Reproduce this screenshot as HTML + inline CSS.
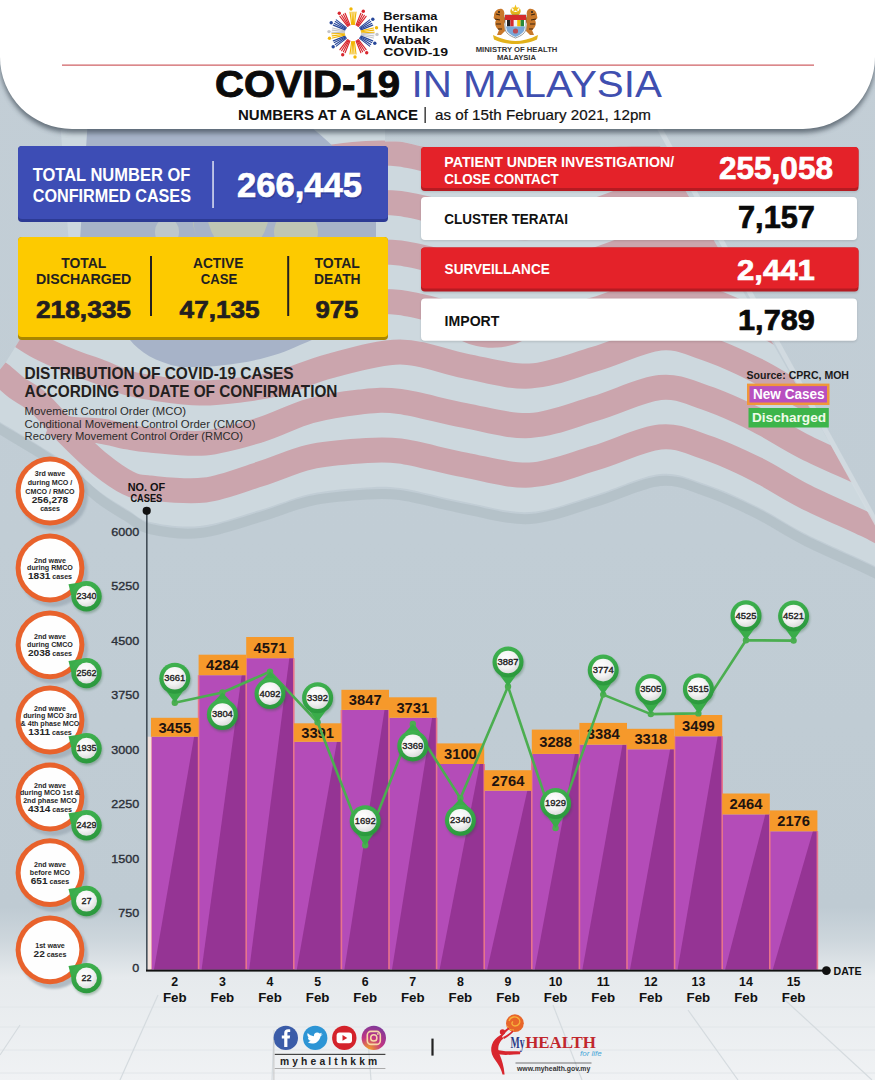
<!DOCTYPE html>
<html><head><meta charset="utf-8">
<style>
*{margin:0;padding:0}
html,body{width:875px;height:1080px;overflow:hidden;background:#c0ccd4}
body{position:relative;font-family:"Liberation Sans",sans-serif}
text{font-family:"Liberation Sans",sans-serif}
</style></head><body>
<svg width="875" height="1080" viewBox="0 0 875 1080" style="position:absolute;left:0;top:0;font-family:'Liberation Sans',sans-serif">
<defs>
<linearGradient id="bgg" x1="0" y1="0" x2="0" y2="1080" gradientUnits="userSpaceOnUse">
<stop offset="0" stop-color="#c3ced6"/>
<stop offset="0.5" stop-color="#c1cdd5"/>
<stop offset="0.84" stop-color="#bfcbd3"/>
<stop offset="0.87" stop-color="#cdd6dc"/>
<stop offset="0.905" stop-color="#e6eaed"/>
<stop offset="1" stop-color="#f0f2f4"/>
</linearGradient>
<filter id="blur3" x="-10%" y="-10%" width="120%" height="140%"><feGaussianBlur stdDeviation="2.5"/></filter>
<filter id="blur1" x="-10%" y="-10%" width="120%" height="140%"><feGaussianBlur stdDeviation="1.2"/></filter>
<radialGradient id="pinw" cx="0.4" cy="0.35" r="0.75"><stop offset="0" stop-color="#ffffff"/><stop offset="0.55" stop-color="#f3f3f3"/><stop offset="1" stop-color="#d4d4d4"/></radialGradient>
<linearGradient id="ring" x1="0" y1="0" x2="0.3" y2="1"><stop offset="0" stop-color="#42b552"/><stop offset="1" stop-color="#2c9a3e"/></linearGradient>
<radialGradient id="igg" cx="0.3" cy="1" r="1.2"><stop offset="0" stop-color="#f6a623"/><stop offset="0.45" stop-color="#c13584"/><stop offset="1" stop-color="#6a3aa0"/></radialGradient>
<clipPath id="flagclip"><path d="M60,118 L385,118 L385,141.5 L400.0,141.5 C410.8,143.8 443.3,151.5 465.0,155.5 C486.7,159.5 508.3,166.7 530.0,165.5 C551.7,164.3 573.3,151.8 595.0,148.5 C616.7,145.2 649.2,146.4 660.0,146.0 L905,575 L900.0,582.0 C895.8,579.3 890.7,574.0 875.0,566.0 C859.3,558.0 825.8,544.0 806.0,534.0 C786.2,524.0 772.8,514.3 756.0,506.0 C739.2,497.7 721.0,489.3 705.0,484.0 C689.0,478.7 678.3,472.2 660.0,474.0 C641.7,475.8 616.7,488.7 595.0,495.0 C573.3,501.3 551.7,510.8 530.0,512.0 C508.3,513.2 486.7,506.0 465.0,502.0 C443.3,498.0 417.5,490.3 400.0,488.0 C382.5,485.7 375.0,487.0 360.0,488.0 C345.0,489.0 326.7,490.3 310.0,494.0 C293.3,497.7 278.3,504.7 260.0,510.0 C241.7,515.3 218.3,524.0 200.0,526.0 C181.7,528.0 162.0,524.7 150.0,522.0 C138.0,519.3 136.3,515.0 128.0,510.0 C119.7,505.0 109.7,499.3 100.0,492.0 C90.3,484.7 80.0,473.7 70.0,466.0 C60.0,458.3 51.7,453.3 40.0,446.0 C28.3,438.7 8.3,427.0 0.0,422.0 C-8.3,417.0 -8.3,417.0 -10.0,416.0 L-10,392 L-2,372 L6,362 L22,336 L40,300 L70,260 Z"/></clipPath>
</defs>
<rect width="875" height="1080" fill="url(#bgg)"/>
<path d="M-10.0,423.0 C-8.3,424.0 -8.3,424.0 0.0,429.0 C8.3,434.0 28.3,445.7 40.0,453.0 C51.7,460.3 60.0,465.3 70.0,473.0 C80.0,480.7 90.3,491.7 100.0,499.0 C109.7,506.3 119.7,512.0 128.0,517.0 C136.3,522.0 138.0,526.3 150.0,529.0 C162.0,531.7 181.7,535.0 200.0,533.0 C218.3,531.0 241.7,522.3 260.0,517.0 C278.3,511.7 293.3,504.7 310.0,501.0 C326.7,497.3 345.0,496.0 360.0,495.0 C375.0,494.0 382.5,492.7 400.0,495.0 C417.5,497.3 443.3,505.0 465.0,509.0 C486.7,513.0 508.3,520.2 530.0,519.0 C551.7,517.8 573.3,508.3 595.0,502.0 C616.7,495.7 641.7,482.8 660.0,481.0 C678.3,479.2 689.0,485.7 705.0,491.0 C721.0,496.3 739.2,504.7 756.0,513.0 C772.8,521.3 786.2,531.0 806.0,541.0 C825.8,551.0 859.3,565.0 875.0,573.0 C890.7,581.0 895.8,586.3 900.0,589.0" fill="none" stroke="#b3bfc7" stroke-width="10" opacity="0.85"/>
<g clip-path="url(#flagclip)">
<rect x="-10" y="110" width="900" height="500" fill="#cdd8de"/>
<path d="M310.0,160.0 C318.3,159.0 345.0,155.0 360.0,154.0 C375.0,153.0 382.5,151.7 400.0,154.0 C417.5,156.3 443.3,164.0 465.0,168.0 C486.7,172.0 508.3,179.2 530.0,178.0 C551.7,176.8 573.3,167.3 595.0,161.0 C616.7,154.7 641.7,141.8 660.0,140.0 C678.3,138.2 689.0,144.7 705.0,150.0 C721.0,155.3 739.2,163.7 756.0,172.0 C772.8,180.3 786.2,190.0 806.0,200.0 C825.8,210.0 859.3,224.0 875.0,232.0 C890.7,240.0 895.8,245.3 900.0,248.0" fill="none" stroke="#cba5ad" stroke-width="25"/>
<path d="M310.0,209.5 C318.3,208.5 345.0,204.5 360.0,203.5 C375.0,202.5 382.5,201.2 400.0,203.5 C417.5,205.8 443.3,213.5 465.0,217.5 C486.7,221.5 508.3,228.7 530.0,227.5 C551.7,226.3 573.3,216.8 595.0,210.5 C616.7,204.2 641.7,191.3 660.0,189.5 C678.3,187.7 689.0,194.2 705.0,199.5 C721.0,204.8 739.2,213.2 756.0,221.5 C772.8,229.8 786.2,239.5 806.0,249.5 C825.8,259.5 859.3,273.5 875.0,281.5 C890.7,289.5 895.8,294.8 900.0,297.5" fill="none" stroke="#cba5ad" stroke-width="25"/>
<path d="M310.0,259.0 C318.3,258.0 345.0,254.0 360.0,253.0 C375.0,252.0 382.5,250.7 400.0,253.0 C417.5,255.3 443.3,263.0 465.0,267.0 C486.7,271.0 508.3,278.2 530.0,277.0 C551.7,275.8 573.3,266.3 595.0,260.0 C616.7,253.7 641.7,240.8 660.0,239.0 C678.3,237.2 689.0,243.7 705.0,249.0 C721.0,254.3 739.2,262.7 756.0,271.0 C772.8,279.3 786.2,289.0 806.0,299.0 C825.8,309.0 859.3,323.0 875.0,331.0 C890.7,339.0 895.8,344.3 900.0,347.0" fill="none" stroke="#cba5ad" stroke-width="25"/>
<path d="M310.0,308.5 C318.3,307.5 345.0,303.5 360.0,302.5 C375.0,301.5 382.5,300.2 400.0,302.5 C417.5,304.8 443.3,312.5 465.0,316.5 C486.7,320.5 508.3,327.7 530.0,326.5 C551.7,325.3 573.3,315.8 595.0,309.5 C616.7,303.2 641.7,290.3 660.0,288.5 C678.3,286.7 689.0,293.2 705.0,298.5 C721.0,303.8 739.2,312.2 756.0,320.5 C772.8,328.8 786.2,338.5 806.0,348.5 C825.8,358.5 859.3,372.5 875.0,380.5 C890.7,388.5 895.8,393.8 900.0,396.5" fill="none" stroke="#cba5ad" stroke-width="25"/>
<path d="M15.0,332.0 C19.0,334.5 29.8,342.2 39.0,347.0 C48.2,351.8 59.8,356.8 70.0,361.0 C80.2,365.2 90.3,368.3 100.0,372.0 C109.7,375.7 118.0,380.2 128.0,383.0 C138.0,385.8 148.0,387.3 160.0,389.0 C172.0,390.7 186.7,392.8 200.0,393.0 C213.3,393.2 226.7,391.7 240.0,390.0 C253.3,388.3 265.0,387.0 280.0,383.0 C295.0,379.0 310.0,371.2 330.0,366.0 C350.0,360.8 377.5,352.0 400.0,352.0 C422.5,352.0 443.3,362.0 465.0,366.0 C486.7,370.0 508.3,377.2 530.0,376.0 C551.7,374.8 573.3,365.3 595.0,359.0 C616.7,352.7 641.7,339.8 660.0,338.0 C678.3,336.2 689.0,342.7 705.0,348.0 C721.0,353.3 739.2,361.7 756.0,370.0 C772.8,378.3 786.2,388.0 806.0,398.0 C825.8,408.0 859.3,422.0 875.0,430.0 C890.7,438.0 895.8,443.3 900.0,446.0" fill="none" stroke="#cba5ad" stroke-width="25"/>
<path d="M50.0,422.0 C53.3,423.2 61.7,427.5 70.0,429.0 C78.3,430.5 90.3,429.7 100.0,431.0 C109.7,432.3 119.7,435.5 128.0,437.0 C136.3,438.5 137.2,439.0 150.0,440.0 C162.8,441.0 186.7,444.7 205.0,443.0 C223.3,441.3 242.5,435.3 260.0,430.0 C277.5,424.7 293.3,415.7 310.0,411.0 C326.7,406.3 345.0,403.6 360.0,402.0 C375.0,400.4 382.5,399.2 400.0,401.5 C417.5,403.8 443.3,411.5 465.0,415.5 C486.7,419.5 508.3,426.7 530.0,425.5 C551.7,424.3 573.3,414.8 595.0,408.5 C616.7,402.2 641.7,389.3 660.0,387.5 C678.3,385.7 689.0,392.2 705.0,397.5 C721.0,402.8 739.2,411.2 756.0,419.5 C772.8,427.8 786.2,437.5 806.0,447.5 C825.8,457.5 859.3,471.5 875.0,479.5 C890.7,487.5 895.8,492.8 900.0,495.5" fill="none" stroke="#cba5ad" stroke-width="25"/>
<path d="M-8.0,368.0 C-6.0,369.5 -0.2,373.7 4.0,377.0 C8.2,380.3 11.2,383.7 17.0,388.0 C22.8,392.3 30.2,395.0 39.0,403.0 C47.8,411.0 59.8,425.8 70.0,436.0 C80.2,446.2 90.3,456.2 100.0,464.0 C109.7,471.8 119.7,479.0 128.0,483.0 C136.3,487.0 137.2,486.8 150.0,488.0 C162.8,489.2 186.7,492.3 205.0,490.0 C223.3,487.7 242.5,479.5 260.0,474.0 C277.5,468.5 293.3,460.8 310.0,457.0 C326.7,453.2 345.0,452.0 360.0,451.0 C375.0,450.0 382.5,448.7 400.0,451.0 C417.5,453.3 443.3,461.0 465.0,465.0 C486.7,469.0 508.3,476.2 530.0,475.0 C551.7,473.8 573.3,464.3 595.0,458.0 C616.7,451.7 641.7,438.8 660.0,437.0 C678.3,435.2 689.0,441.7 705.0,447.0 C721.0,452.3 739.2,460.7 756.0,469.0 C772.8,477.3 786.2,487.0 806.0,497.0 C825.8,507.0 859.3,521.0 875.0,529.0 C890.7,537.0 895.8,542.3 900.0,545.0" fill="none" stroke="#cba5ad" stroke-width="25"/>
<path d="M462,341 C480,350 505,350 522,341 Z" fill="#cba5ad"/>
<path d="M100,118 L300,118 C340,150 372,180 376,215 L376,260 C376,300 340,330 300,345 C270,360 225,368 180,367 C155,362 140,352 130,340 L80,240 L88,118 Z" fill="#a7b3c8"/>
<path d="M215,150 C190,170 185,215 200,245 C185,215 195,175 225,158 Z" fill="#c9cfa9" opacity="0.9"/>
<ellipse cx="238" cy="205" rx="32" ry="48" fill="#c7ccad" opacity="0.75"/>
<ellipse cx="296" cy="232" rx="22" ry="22" fill="#c7ccad" opacity="0.75"/>
<ellipse cx="167" cy="232" rx="12" ry="14" fill="#c8d0cc" opacity="0.7"/>
</g>
<path d="M655,120 L905,575" stroke="#d5dee3" stroke-width="5" opacity="0.8"/>
<line x1="0" y1="1007" x2="875" y2="1007" stroke="#e2e6e9" stroke-width="1"/>
<line x1="0" y1="1027" x2="875" y2="1027" stroke="#e2e6e9" stroke-width="1"/>
<line x1="0" y1="1050" x2="875" y2="1050" stroke="#e2e6e9" stroke-width="1"/>
<line x1="0" y1="1073" x2="875" y2="1073" stroke="#e2e6e9" stroke-width="1"/>
<line x1="158" y1="995" x2="120" y2="1080" stroke="#d5dbdf" stroke-width="1.2"/>
<line x1="20" y1="1025" x2="0" y2="1055" stroke="#d5dbdf" stroke-width="1.2"/>
<line x1="274" y1="1030" x2="272" y2="1080" stroke="#d5dbdf" stroke-width="1.2"/>
<line x1="368" y1="1040" x2="371" y2="1080" stroke="#d5dbdf" stroke-width="1.2"/>
<line x1="553" y1="1005" x2="582" y2="1080" stroke="#d5dbdf" stroke-width="1.2"/>
<line x1="688" y1="1010" x2="738" y2="1080" stroke="#d5dbdf" stroke-width="1.2"/>
<line x1="785" y1="1000" x2="872" y2="1080" stroke="#d5dbdf" stroke-width="1.2"/>
<path d="M0,-5 H875 V57 A72,72 0 0 1 803,129 H72 A72,72 0 0 1 0,57 Z" fill="#3e4a54" opacity="0.7" transform="translate(0,4)" filter="url(#blur3)"/>
<path d="M0,-5 H875 V57 A72,72 0 0 1 803,129 H72 A72,72 0 0 1 0,57 Z" fill="#ffffff"/>
<rect x="62" y="64.6" width="752" height="1" fill="#c43a40"/>
<g transform="translate(353,33)">
<line x1="-1.3" y1="-8.5" x2="-3.0" y2="-21.0" stroke="#f2b705" stroke-width="1.15" stroke-linecap="round"/>
<line x1="-0.4" y1="-8.5" x2="-1.0" y2="-21.0" stroke="#f2b705" stroke-width="1.15" stroke-linecap="round"/>
<line x1="0.5" y1="-8.5" x2="1.0" y2="-21.0" stroke="#f2b705" stroke-width="1.15" stroke-linecap="round"/>
<line x1="1.4" y1="-8.5" x2="3.0" y2="-21.0" stroke="#f2b705" stroke-width="1.15" stroke-linecap="round"/>
<circle cx="-2.0" cy="-24.0" r="1.7" fill="#f2b705"/>
<line x1="3.1" y1="-8.0" x2="7.9" y2="-19.7" stroke="#d8262e" stroke-width="1.15" stroke-linecap="round"/>
<line x1="3.9" y1="-7.6" x2="9.6" y2="-18.7" stroke="#d8262e" stroke-width="1.15" stroke-linecap="round"/>
<line x1="4.6" y1="-7.1" x2="11.4" y2="-17.7" stroke="#d8262e" stroke-width="1.15" stroke-linecap="round"/>
<line x1="5.4" y1="-6.7" x2="13.1" y2="-16.7" stroke="#d8262e" stroke-width="1.15" stroke-linecap="round"/>
<circle cx="10.3" cy="-21.8" r="1.7" fill="#d8262e"/>
<line x1="6.7" y1="-5.4" x2="16.7" y2="-13.1" stroke="#27479a" stroke-width="1.15" stroke-linecap="round"/>
<line x1="7.1" y1="-4.6" x2="17.7" y2="-11.4" stroke="#27479a" stroke-width="1.15" stroke-linecap="round"/>
<line x1="7.6" y1="-3.9" x2="18.7" y2="-9.6" stroke="#27479a" stroke-width="1.15" stroke-linecap="round"/>
<line x1="8.0" y1="-3.1" x2="19.7" y2="-7.9" stroke="#27479a" stroke-width="1.15" stroke-linecap="round"/>
<circle cx="19.8" cy="-13.7" r="1.7" fill="#27479a"/>
<line x1="8.3" y1="-2.1" x2="20.5" y2="-5.0" stroke="#f2b705" stroke-width="1.15" stroke-linecap="round"/>
<line x1="8.4" y1="-1.2" x2="20.8" y2="-2.9" stroke="#f2b705" stroke-width="1.15" stroke-linecap="round"/>
<line x1="8.5" y1="-0.2" x2="21.1" y2="-0.8" stroke="#f2b705" stroke-width="1.15" stroke-linecap="round"/>
<circle cx="23.5" cy="-5.3" r="1.7" fill="#f2b705"/>
<line x1="8.5" y1="0.2" x2="21.1" y2="0.8" stroke="#c4c4c8" stroke-width="1.15" stroke-linecap="round"/>
<line x1="8.4" y1="1.2" x2="20.8" y2="2.9" stroke="#c4c4c8" stroke-width="1.15" stroke-linecap="round"/>
<line x1="8.3" y1="2.1" x2="20.5" y2="5.0" stroke="#c4c4c8" stroke-width="1.15" stroke-linecap="round"/>
<circle cx="24.0" cy="1.4" r="1.7" fill="#c4c4c8"/>
<line x1="8.0" y1="3.1" x2="19.7" y2="7.9" stroke="#27479a" stroke-width="1.15" stroke-linecap="round"/>
<line x1="7.6" y1="3.9" x2="18.7" y2="9.6" stroke="#27479a" stroke-width="1.15" stroke-linecap="round"/>
<line x1="7.1" y1="4.6" x2="17.7" y2="11.4" stroke="#27479a" stroke-width="1.15" stroke-linecap="round"/>
<line x1="6.7" y1="5.4" x2="16.7" y2="13.1" stroke="#27479a" stroke-width="1.15" stroke-linecap="round"/>
<circle cx="21.8" cy="10.3" r="1.7" fill="#27479a"/>
<line x1="5.4" y1="6.7" x2="13.1" y2="16.7" stroke="#d8262e" stroke-width="1.15" stroke-linecap="round"/>
<line x1="4.6" y1="7.1" x2="11.4" y2="17.7" stroke="#d8262e" stroke-width="1.15" stroke-linecap="round"/>
<line x1="3.9" y1="7.6" x2="9.6" y2="18.7" stroke="#d8262e" stroke-width="1.15" stroke-linecap="round"/>
<line x1="3.1" y1="8.0" x2="7.9" y2="19.7" stroke="#d8262e" stroke-width="1.15" stroke-linecap="round"/>
<circle cx="13.7" cy="19.8" r="1.7" fill="#d8262e"/>
<line x1="1.4" y1="8.5" x2="3.0" y2="21.0" stroke="#f2b705" stroke-width="1.15" stroke-linecap="round"/>
<line x1="0.5" y1="8.5" x2="1.0" y2="21.0" stroke="#f2b705" stroke-width="1.15" stroke-linecap="round"/>
<line x1="-0.4" y1="8.5" x2="-1.0" y2="21.0" stroke="#f2b705" stroke-width="1.15" stroke-linecap="round"/>
<line x1="-1.3" y1="8.5" x2="-3.0" y2="21.0" stroke="#f2b705" stroke-width="1.15" stroke-linecap="round"/>
<circle cx="2.0" cy="24.0" r="1.7" fill="#f2b705"/>
<line x1="-3.1" y1="8.0" x2="-7.9" y2="19.7" stroke="#d8262e" stroke-width="1.15" stroke-linecap="round"/>
<line x1="-3.9" y1="7.6" x2="-9.6" y2="18.7" stroke="#d8262e" stroke-width="1.15" stroke-linecap="round"/>
<line x1="-4.6" y1="7.1" x2="-11.4" y2="17.7" stroke="#d8262e" stroke-width="1.15" stroke-linecap="round"/>
<line x1="-5.4" y1="6.7" x2="-13.1" y2="16.7" stroke="#d8262e" stroke-width="1.15" stroke-linecap="round"/>
<circle cx="-10.3" cy="21.8" r="1.7" fill="#d8262e"/>
<line x1="-6.7" y1="5.4" x2="-16.7" y2="13.1" stroke="#27479a" stroke-width="1.15" stroke-linecap="round"/>
<line x1="-7.1" y1="4.6" x2="-17.7" y2="11.4" stroke="#27479a" stroke-width="1.15" stroke-linecap="round"/>
<line x1="-7.6" y1="3.9" x2="-18.7" y2="9.6" stroke="#27479a" stroke-width="1.15" stroke-linecap="round"/>
<line x1="-8.0" y1="3.1" x2="-19.7" y2="7.9" stroke="#27479a" stroke-width="1.15" stroke-linecap="round"/>
<circle cx="-19.8" cy="13.7" r="1.7" fill="#27479a"/>
<line x1="-8.3" y1="2.1" x2="-20.5" y2="5.0" stroke="#f2b705" stroke-width="1.15" stroke-linecap="round"/>
<line x1="-8.4" y1="1.2" x2="-20.8" y2="2.9" stroke="#f2b705" stroke-width="1.15" stroke-linecap="round"/>
<line x1="-8.5" y1="0.2" x2="-21.1" y2="0.8" stroke="#f2b705" stroke-width="1.15" stroke-linecap="round"/>
<circle cx="-23.5" cy="5.3" r="1.7" fill="#f2b705"/>
<line x1="-8.5" y1="-0.2" x2="-21.1" y2="-0.8" stroke="#c4c4c8" stroke-width="1.15" stroke-linecap="round"/>
<line x1="-8.4" y1="-1.2" x2="-20.8" y2="-2.9" stroke="#c4c4c8" stroke-width="1.15" stroke-linecap="round"/>
<line x1="-8.3" y1="-2.1" x2="-20.5" y2="-5.0" stroke="#c4c4c8" stroke-width="1.15" stroke-linecap="round"/>
<circle cx="-24.0" cy="-1.4" r="1.7" fill="#c4c4c8"/>
<line x1="-8.0" y1="-3.1" x2="-19.7" y2="-7.9" stroke="#27479a" stroke-width="1.15" stroke-linecap="round"/>
<line x1="-7.6" y1="-3.9" x2="-18.7" y2="-9.6" stroke="#27479a" stroke-width="1.15" stroke-linecap="round"/>
<line x1="-7.1" y1="-4.6" x2="-17.7" y2="-11.4" stroke="#27479a" stroke-width="1.15" stroke-linecap="round"/>
<line x1="-6.7" y1="-5.4" x2="-16.7" y2="-13.1" stroke="#27479a" stroke-width="1.15" stroke-linecap="round"/>
<circle cx="-21.8" cy="-10.3" r="1.7" fill="#27479a"/>
<line x1="-5.4" y1="-6.7" x2="-13.1" y2="-16.7" stroke="#d8262e" stroke-width="1.15" stroke-linecap="round"/>
<line x1="-4.6" y1="-7.1" x2="-11.4" y2="-17.7" stroke="#d8262e" stroke-width="1.15" stroke-linecap="round"/>
<line x1="-3.9" y1="-7.6" x2="-9.6" y2="-18.7" stroke="#d8262e" stroke-width="1.15" stroke-linecap="round"/>
<line x1="-3.1" y1="-8.0" x2="-7.9" y2="-19.7" stroke="#d8262e" stroke-width="1.15" stroke-linecap="round"/>
<circle cx="-13.7" cy="-19.8" r="1.7" fill="#d8262e"/>
</g>
<text x="383.20" y="20.40" font-size="11.63" textLength="54.27" lengthAdjust="spacingAndGlyphs" fill="#111" font-weight="bold" >Bersama</text>
<text x="383.20" y="32.40" font-size="11.63" textLength="54.38" lengthAdjust="spacingAndGlyphs" fill="#111" font-weight="bold" >Hentikan</text>
<text x="383.20" y="44.40" font-size="11.63" textLength="47.14" lengthAdjust="spacingAndGlyphs" fill="#111" font-weight="bold" >Wabak</text>
<text x="383.20" y="55.60" font-size="11.63" textLength="64.83" lengthAdjust="spacingAndGlyphs" fill="#111" font-weight="bold" >COVID-19</text>
<g transform="translate(491,4)">
<path d="M20.5,4 A5,5 0 1 0 28.5,4 A4,4 0 1 1 20.5,4 Z" fill="#e2b21c"/>
<polygon points="24.5,0.5 25.6,3.4 28.5,3.6 26.2,5.4 27,8.2 24.5,6.6 22,8.2 22.8,5.4 20.5,3.6 23.4,3.4" fill="#f0c21e"/>
<path d="M3,12 C3,7 7,4 11,5 C13,6 14,9 13,12 L15,16 L13,20 L14,27 L10,31 L6,31 L8,26 C5,24 3,20 5,16 C3,15 2,14 3,12 Z" fill="#c8782a"/>
<path d="M46,12 C46,7 42,4 38,5 C36,6 35,9 36,12 L34,16 L36,20 L35,27 L39,31 L43,31 L41,26 C44,24 46,20 44,16 C46,15 47,14 46,12 Z" fill="#c8782a"/>
<path d="M5,10 L9,11 M4,15 L9,16 M5,20 L10,20 M7,25 L11,25 M44,10 L40,11 M45,15 L40,16 M44,20 L39,20 M42,25 L38,25" stroke="#3a2410" stroke-width="1.1"/>
<circle cx="8" cy="8" r="1" fill="#222"/><circle cx="41" cy="8" r="1" fill="#222"/>
<path d="M14,11 L35,11 L35,24 C35,29 30,32 24.5,34 C19,32 14,29 14,24 Z" fill="#ffffff" stroke="#555" stroke-width="0.6"/>
<rect x="14" y="11" width="21" height="5" fill="#d52b2b"/>
<rect x="16" y="16" width="3.4" height="6.5" fill="#222"/><rect x="19.4" y="16" width="3.4" height="6.5" fill="#d52b2b"/><rect x="22.8" y="16" width="3.4" height="6.5" fill="#f2f2f2"/><rect x="26.2" y="16" width="3.4" height="6.5" fill="#f0c000"/><rect x="29.6" y="16" width="3.4" height="6.5" fill="#2a8a3a"/>
<path d="M15,22.5 L34,22.5 L33,27 C31,30 27,32 24.5,33 C22,32 18,30 16,27 Z" fill="#7aa8d8"/>
<circle cx="24.5" cy="27" r="2.6" fill="#c33" opacity="0.8"/>
<path d="M2,31 C10,35 18,37 24.5,37 C31,37 39,35 47,31 L46,35.5 C38,39 31,40 24.5,40 C18,40 11,39 3,35.5 Z" fill="#e2b21c"/>
</g>
<text x="475.70" y="51.60" font-size="6.83" textLength="81.69" lengthAdjust="spacingAndGlyphs" fill="#333" font-weight="bold" >MINISTRY OF HEALTH</text>
<text x="496.90" y="60.10" font-size="6.83" textLength="39.10" lengthAdjust="spacingAndGlyphs" fill="#333" font-weight="bold" >MALAYSIA</text>
<text x="215.00" y="97.00" font-size="36.34" textLength="185.10" lengthAdjust="spacingAndGlyphs" fill="#0b0b0b" font-weight="bold" stroke="#0b0b0b" stroke-width="0.9">COVID-19</text>
<text x="411.50" y="97.00" font-size="36.34" textLength="250.33" lengthAdjust="spacingAndGlyphs" fill="#3f4fb0" >IN MALAYSIA</text>
<text x="238.00" y="120.30" font-size="14.97" textLength="180.02" lengthAdjust="spacingAndGlyphs" fill="#111" font-weight="bold" >NUMBERS AT A GLANCE</text>
<rect x="424.5" y="107" width="1.3" height="16" fill="#222"/>
<text x="435.00" y="120.30" font-size="14.97" textLength="216.02" lengthAdjust="spacingAndGlyphs" fill="#111" stroke="#111" stroke-width="0.2">as of 15th February 2021, 12pm</text>
<rect x="18.0" y="146.0" width="370.0" height="76.0" rx="4" fill="#2c3a94"/><rect x="18.0" y="146.0" width="370.0" height="73.0" rx="4" fill="#3d4db5"/>
<text x="32.70" y="180.60" font-size="17.44" textLength="157.61" lengthAdjust="spacingAndGlyphs" fill="#fff" font-weight="bold" >TOTAL NUMBER OF</text>
<text x="32.70" y="201.60" font-size="17.44" textLength="158.28" lengthAdjust="spacingAndGlyphs" fill="#fff" font-weight="bold" >CONFIRMED CASES</text>
<rect x="212.3" y="161" width="1.5" height="47" fill="#dfe3f3"/>
<text x="237.00" y="196.60" font-size="35.03" textLength="124.99" lengthAdjust="spacingAndGlyphs" fill="#1d2a70" font-weight="bold" opacity="0.35" transform="translate(1.5,2)">266,445</text>
<text x="237.00" y="196.60" font-size="35.03" textLength="124.99" lengthAdjust="spacingAndGlyphs" fill="#fff" font-weight="bold" stroke="#fff" stroke-width="0.7">266,445</text>
<rect x="18.0" y="237.0" width="370.0" height="103.0" rx="4" fill="#a88600"/><rect x="18.0" y="237.0" width="370.0" height="100.0" rx="4" fill="#fdca00"/>
<text x="61.30" y="267.50" font-size="14.83" textLength="45.00" lengthAdjust="spacingAndGlyphs" fill="#231f20" font-weight="bold" >TOTAL</text>
<text x="36.00" y="283.60" font-size="14.83" textLength="95.37" lengthAdjust="spacingAndGlyphs" fill="#231f20" font-weight="bold" >DISCHARGED</text>
<text x="36.00" y="317.70" font-size="23.98" textLength="95.00" lengthAdjust="spacingAndGlyphs" fill="#231f20" font-weight="bold" stroke="#231f20" stroke-width="0.7">218,335</text>
<rect x="150" y="256" width="2" height="60" fill="#231f20"/>
<text x="193.00" y="267.50" font-size="14.83" textLength="50.33" lengthAdjust="spacingAndGlyphs" fill="#231f20" font-weight="bold" >ACTIVE</text>
<text x="200.70" y="283.60" font-size="14.83" textLength="36.48" lengthAdjust="spacingAndGlyphs" fill="#231f20" font-weight="bold" >CASE</text>
<text x="179.60" y="317.70" font-size="23.98" textLength="80.07" lengthAdjust="spacingAndGlyphs" fill="#231f20" font-weight="bold" stroke="#231f20" stroke-width="0.7">47,135</text>
<rect x="287.2" y="256" width="2" height="60" fill="#231f20"/>
<text x="314.60" y="267.50" font-size="14.83" textLength="45.20" lengthAdjust="spacingAndGlyphs" fill="#231f20" font-weight="bold" >TOTAL</text>
<text x="314.00" y="283.60" font-size="14.83" textLength="46.60" lengthAdjust="spacingAndGlyphs" fill="#231f20" font-weight="bold" >DEATH</text>
<text x="315.40" y="317.70" font-size="23.98" textLength="42.96" lengthAdjust="spacingAndGlyphs" fill="#231f20" font-weight="bold" stroke="#231f20" stroke-width="0.7">975</text>
<rect x="421" y="148" width="437.5" height="44" rx="4" fill="#000" opacity="0.12" filter="url(#blur1)"/>
<rect x="421.0" y="147.0" width="437.5" height="44.0" rx="4" fill="#b51b22"/><rect x="421.0" y="147.0" width="437.5" height="41.0" rx="4" fill="#e42229"/>
<text x="444.30" y="167.10" font-size="15.41" textLength="229.97" lengthAdjust="spacingAndGlyphs" fill="#fff" font-weight="bold" >PATIENT UNDER INVESTIGATION/</text>
<text x="444.30" y="183.70" font-size="15.41" textLength="114.32" lengthAdjust="spacingAndGlyphs" fill="#fff" font-weight="bold" >CLOSE CONTACT</text>
<text x="719.00" y="178.80" font-size="30.67" textLength="114.00" lengthAdjust="spacingAndGlyphs" fill="#fff" font-weight="bold" stroke="#fff" stroke-width="0.7">255,058</text>
<rect x="421" y="198" width="436" height="43" rx="4" fill="#000" opacity="0.12" filter="url(#blur1)"/>
<rect x="421.0" y="197.0" width="436.0" height="43.0" rx="4" fill="#ffffff"/>
<text x="444.30" y="223.70" font-size="14.97" textLength="123.70" lengthAdjust="spacingAndGlyphs" fill="#111" font-weight="bold" >CLUSTER TERATAI</text>
<text x="738.00" y="228.00" font-size="30.52" textLength="76.92" lengthAdjust="spacingAndGlyphs" fill="#0a0a0a" font-weight="bold" stroke="#0a0a0a" stroke-width="0.7">7,157</text>
<rect x="421" y="249" width="437.5" height="44" rx="4" fill="#000" opacity="0.12" filter="url(#blur1)"/>
<rect x="421.0" y="247.6" width="437.5" height="44.0" rx="4" fill="#b51b22"/><rect x="421.0" y="247.6" width="437.5" height="41.0" rx="4" fill="#e42229"/>
<text x="444.60" y="274.40" font-size="14.97" textLength="105.11" lengthAdjust="spacingAndGlyphs" fill="#fff" font-weight="bold" >SURVEILLANCE</text>
<text x="737.00" y="279.50" font-size="30.23" textLength="77.92" lengthAdjust="spacingAndGlyphs" fill="#fff" font-weight="bold" stroke="#fff" stroke-width="0.7">2,441</text>
<rect x="421" y="299" width="436" height="43" rx="4" fill="#000" opacity="0.12" filter="url(#blur1)"/>
<rect x="421.0" y="298.4" width="436.0" height="42.4" rx="4" fill="#ffffff"/>
<text x="444.60" y="326.30" font-size="15.55" textLength="54.78" lengthAdjust="spacingAndGlyphs" fill="#111" font-weight="bold" >IMPORT</text>
<text x="738.00" y="330.40" font-size="30.38" textLength="76.92" lengthAdjust="spacingAndGlyphs" fill="#0a0a0a" font-weight="bold" stroke="#0a0a0a" stroke-width="0.7">1,789</text>
<text x="24.60" y="378.50" font-size="16.28" textLength="269.01" lengthAdjust="spacingAndGlyphs" fill="#231f20" font-weight="bold" >DISTRIBUTION OF COVID-19 CASES</text>
<text x="24.60" y="396.80" font-size="16.28" textLength="312.87" lengthAdjust="spacingAndGlyphs" fill="#231f20" font-weight="bold" >ACCORDING TO DATE OF CONFIRMATION</text>
<text x="24.60" y="414.80" font-size="11.05" textLength="161.41" lengthAdjust="spacingAndGlyphs" fill="#2b2b2b" >Movement Control Order (MCO)</text>
<text x="24.60" y="427.60" font-size="11.05" textLength="230.90" lengthAdjust="spacingAndGlyphs" fill="#2b2b2b" >Conditional Movement Control Order (CMCO)</text>
<text x="24.60" y="440.40" font-size="11.05" textLength="218.40" lengthAdjust="spacingAndGlyphs" fill="#2b2b2b" >Recovery Movement Control Order (RMCO)</text>
<text x="746.50" y="378.60" font-size="11.05" textLength="102.48" lengthAdjust="spacingAndGlyphs" fill="#1a1a1a" font-weight="bold" >Source: CPRC, MOH</text>
<rect x="747" y="383.6" width="82.5" height="21.4" fill="#f0973a"/>
<rect x="749.5" y="386.1" width="77.5" height="16.4" fill="#b84fbf"/>
<text x="753.00" y="399.00" font-size="13.81" textLength="71.61" lengthAdjust="spacingAndGlyphs" fill="#fff" font-weight="bold" >New Cases</text>
<rect x="748.5" y="408" width="80.3" height="19.5" fill="#3db54a"/>
<text x="752.00" y="421.70" font-size="13.66" textLength="74.02" lengthAdjust="spacingAndGlyphs" fill="#effbe9" font-weight="bold" >Discharged</text>
<rect x="151.0" y="736.7" width="47.6" height="232.9" fill="#b44cb8"/>
<polygon points="194.1,736.7 198.6,736.7 198.6,969.6 154.0,969.6" fill="#953494"/>
<rect x="198.6" y="675.2" width="47.6" height="294.4" fill="#b44cb8"/>
<polygon points="241.7,675.2 246.2,675.2 246.2,969.6 201.6,969.6" fill="#953494"/>
<rect x="246.2" y="658.2" width="47.6" height="311.4" fill="#b44cb8"/>
<polygon points="289.3,658.2 293.8,658.2 293.8,969.6 249.2,969.6" fill="#953494"/>
<rect x="293.8" y="741.8" width="47.6" height="227.8" fill="#b44cb8"/>
<polygon points="336.9,741.8 341.4,741.8 341.4,969.6 296.8,969.6" fill="#953494"/>
<rect x="341.4" y="709.9" width="47.6" height="259.7" fill="#b44cb8"/>
<polygon points="384.5,709.9 389.0,709.9 389.0,969.6 344.4,969.6" fill="#953494"/>
<rect x="389.0" y="717.8" width="47.6" height="251.8" fill="#b44cb8"/>
<polygon points="432.1,717.8 436.6,717.8 436.6,969.6 392.0,969.6" fill="#953494"/>
<rect x="436.6" y="764.0" width="47.6" height="205.6" fill="#b44cb8"/>
<polygon points="479.7,764.0 484.2,764.0 484.2,969.6 439.6,969.6" fill="#953494"/>
<rect x="484.2" y="790.7" width="47.6" height="178.9" fill="#b44cb8"/>
<polygon points="527.3,790.7 531.8,790.7 531.8,969.6 487.2,969.6" fill="#953494"/>
<rect x="531.8" y="753.9" width="47.6" height="215.7" fill="#b44cb8"/>
<polygon points="574.9,753.9 579.4,753.9 579.4,969.6 534.8,969.6" fill="#953494"/>
<rect x="579.4" y="744.7" width="47.6" height="224.9" fill="#b44cb8"/>
<polygon points="622.5,744.7 627.0,744.7 627.0,969.6 582.4,969.6" fill="#953494"/>
<rect x="627.0" y="749.3" width="47.6" height="220.3" fill="#b44cb8"/>
<polygon points="670.1,749.3 674.6,749.3 674.6,969.6 630.0,969.6" fill="#953494"/>
<rect x="674.6" y="736.3" width="47.6" height="233.3" fill="#b44cb8"/>
<polygon points="717.7,736.3 722.2,736.3 722.2,969.6 677.6,969.6" fill="#953494"/>
<rect x="722.2" y="814.4" width="47.6" height="155.2" fill="#b44cb8"/>
<polygon points="765.3,814.4 769.8,814.4 769.8,969.6 725.2,969.6" fill="#953494"/>
<rect x="769.8" y="831.3" width="47.6" height="138.3" fill="#b44cb8"/>
<polygon points="812.9,831.3 817.4,831.3 817.4,969.6 772.8,969.6" fill="#953494"/>
<line x1="151.0" y1="736.7" x2="151.0" y2="969.6" stroke="#e8748c" stroke-width="1.6"/>
<line x1="198.6" y1="675.2" x2="198.6" y2="969.6" stroke="#e8748c" stroke-width="1.6"/>
<line x1="246.2" y1="658.2" x2="246.2" y2="969.6" stroke="#e8748c" stroke-width="1.6"/>
<line x1="293.8" y1="658.2" x2="293.8" y2="969.6" stroke="#e8748c" stroke-width="1.6"/>
<line x1="341.4" y1="709.9" x2="341.4" y2="969.6" stroke="#e8748c" stroke-width="1.6"/>
<line x1="389.0" y1="709.9" x2="389.0" y2="969.6" stroke="#e8748c" stroke-width="1.6"/>
<line x1="436.6" y1="717.8" x2="436.6" y2="969.6" stroke="#e8748c" stroke-width="1.6"/>
<line x1="484.2" y1="764.0" x2="484.2" y2="969.6" stroke="#e8748c" stroke-width="1.6"/>
<line x1="531.8" y1="753.9" x2="531.8" y2="969.6" stroke="#e8748c" stroke-width="1.6"/>
<line x1="579.4" y1="744.7" x2="579.4" y2="969.6" stroke="#e8748c" stroke-width="1.6"/>
<line x1="627.0" y1="744.7" x2="627.0" y2="969.6" stroke="#e8748c" stroke-width="1.6"/>
<line x1="674.6" y1="736.3" x2="674.6" y2="969.6" stroke="#e8748c" stroke-width="1.6"/>
<line x1="722.2" y1="736.3" x2="722.2" y2="969.6" stroke="#e8748c" stroke-width="1.6"/>
<line x1="769.8" y1="814.4" x2="769.8" y2="969.6" stroke="#e8748c" stroke-width="1.6"/>
<line x1="817.4" y1="831.3" x2="817.4" y2="969.6" stroke="#e8748c" stroke-width="1.6"/>
<rect x="147.4" y="736.7" width="4" height="232.9" fill="#f3e2dc"/>
<rect x="151.0" y="717.8" width="47.6" height="18.9" fill="#f6992b"/>
<text x="158.42" y="732.60" font-size="15.50" textLength="32.76" lengthAdjust="spacingAndGlyphs" fill="#1f1410" font-weight="bold" >3455</text>
<rect x="198.6" y="654.7" width="47.6" height="20.5" fill="#f6992b"/>
<text x="206.02" y="670.30" font-size="15.50" textLength="32.76" lengthAdjust="spacingAndGlyphs" fill="#1f1410" font-weight="bold" >4284</text>
<rect x="246.2" y="637.0" width="47.6" height="21.2" fill="#f6992b"/>
<text x="253.62" y="652.95" font-size="15.50" textLength="32.76" lengthAdjust="spacingAndGlyphs" fill="#1f1410" font-weight="bold" >4571</text>
<rect x="293.8" y="723.3" width="47.6" height="18.5" fill="#f6992b"/>
<text x="301.22" y="737.90" font-size="15.50" textLength="32.76" lengthAdjust="spacingAndGlyphs" fill="#1f1410" font-weight="bold" >3391</text>
<rect x="341.4" y="689.8" width="47.6" height="20.1" fill="#f6992b"/>
<text x="348.82" y="705.20" font-size="15.50" textLength="32.76" lengthAdjust="spacingAndGlyphs" fill="#1f1410" font-weight="bold" >3847</text>
<rect x="389.0" y="697.3" width="47.6" height="20.5" fill="#f6992b"/>
<text x="396.42" y="712.90" font-size="15.50" textLength="32.76" lengthAdjust="spacingAndGlyphs" fill="#1f1410" font-weight="bold" >3731</text>
<rect x="436.6" y="743.4" width="47.6" height="20.6" fill="#f6992b"/>
<text x="444.02" y="759.05" font-size="15.50" textLength="32.76" lengthAdjust="spacingAndGlyphs" fill="#1f1410" font-weight="bold" >3100</text>
<rect x="484.2" y="770.2" width="47.6" height="20.5" fill="#f6992b"/>
<text x="491.62" y="785.80" font-size="15.50" textLength="32.76" lengthAdjust="spacingAndGlyphs" fill="#1f1410" font-weight="bold" >2764</text>
<rect x="531.8" y="729.6" width="47.6" height="24.3" fill="#f6992b"/>
<text x="539.22" y="747.10" font-size="15.50" textLength="32.76" lengthAdjust="spacingAndGlyphs" fill="#1f1410" font-weight="bold" >3288</text>
<rect x="579.4" y="722.9" width="47.6" height="21.8" fill="#f6992b"/>
<text x="586.82" y="739.15" font-size="15.50" textLength="32.76" lengthAdjust="spacingAndGlyphs" fill="#1f1410" font-weight="bold" >3384</text>
<rect x="627.0" y="728.8" width="47.6" height="20.5" fill="#f6992b"/>
<text x="634.42" y="744.40" font-size="15.50" textLength="32.76" lengthAdjust="spacingAndGlyphs" fill="#1f1410" font-weight="bold" >3318</text>
<rect x="674.6" y="715.0" width="47.6" height="21.3" fill="#f6992b"/>
<text x="682.02" y="731.00" font-size="15.50" textLength="32.76" lengthAdjust="spacingAndGlyphs" fill="#1f1410" font-weight="bold" >3499</text>
<rect x="722.2" y="793.5" width="47.6" height="20.9" fill="#f6992b"/>
<text x="729.62" y="809.30" font-size="15.50" textLength="32.76" lengthAdjust="spacingAndGlyphs" fill="#1f1410" font-weight="bold" >2464</text>
<rect x="769.8" y="810.4" width="47.6" height="20.9" fill="#f6992b"/>
<text x="777.22" y="826.20" font-size="15.50" textLength="32.76" lengthAdjust="spacingAndGlyphs" fill="#1f1410" font-weight="bold" >2176</text>
<rect x="146.2" y="511" width="1.3" height="460" fill="#25303a"/>
<circle cx="146.7" cy="510.8" r="4.1" fill="#111"/>
<rect x="146" y="969.6" width="680" height="2" fill="#111"/>
<circle cx="826.4" cy="970.6" r="4.4" fill="#111"/>
<text x="833.60" y="975.00" font-size="11.63" textLength="28.08" lengthAdjust="spacingAndGlyphs" fill="#111" font-weight="bold" >DATE</text>
<text x="127.70" y="491.10" font-size="10.76" textLength="37.49" lengthAdjust="spacingAndGlyphs" fill="#111" font-weight="bold" >NO. OF</text>
<text x="130.40" y="501.80" font-size="11.05" textLength="31.80" lengthAdjust="spacingAndGlyphs" fill="#111" font-weight="bold" >CASES</text>
<text x="132.33" y="971.60" font-size="11.63" textLength="6.98" lengthAdjust="spacingAndGlyphs" fill="#2b2f38" stroke="#2b2f38" stroke-width="0.35">0</text>
<text x="118.33" y="917.09" font-size="11.63" textLength="20.95" lengthAdjust="spacingAndGlyphs" fill="#2b2f38" stroke="#2b2f38" stroke-width="0.35">750</text>
<text x="111.36" y="862.58" font-size="11.63" textLength="27.94" lengthAdjust="spacingAndGlyphs" fill="#2b2f38" stroke="#2b2f38" stroke-width="0.35">1500</text>
<text x="111.36" y="808.07" font-size="11.63" textLength="27.94" lengthAdjust="spacingAndGlyphs" fill="#2b2f38" stroke="#2b2f38" stroke-width="0.35">2250</text>
<text x="111.36" y="753.56" font-size="11.63" textLength="27.94" lengthAdjust="spacingAndGlyphs" fill="#2b2f38" stroke="#2b2f38" stroke-width="0.35">3000</text>
<text x="111.36" y="699.05" font-size="11.63" textLength="27.94" lengthAdjust="spacingAndGlyphs" fill="#2b2f38" stroke="#2b2f38" stroke-width="0.35">3750</text>
<text x="111.36" y="644.54" font-size="11.63" textLength="27.94" lengthAdjust="spacingAndGlyphs" fill="#2b2f38" stroke="#2b2f38" stroke-width="0.35">4500</text>
<text x="111.36" y="590.03" font-size="11.63" textLength="27.94" lengthAdjust="spacingAndGlyphs" fill="#2b2f38" stroke="#2b2f38" stroke-width="0.35">5250</text>
<text x="111.36" y="535.52" font-size="11.63" textLength="27.94" lengthAdjust="spacingAndGlyphs" fill="#2b2f38" stroke="#2b2f38" stroke-width="0.35">6000</text>
<text x="171.36" y="986.40" font-size="12.40" textLength="6.90" lengthAdjust="spacingAndGlyphs" fill="#111" font-weight="bold" >2</text>
<text x="162.96" y="1002.40" font-size="13.30" textLength="23.65" lengthAdjust="spacingAndGlyphs" fill="#111" font-weight="bold" >Feb</text>
<text x="218.96" y="986.40" font-size="12.40" textLength="6.90" lengthAdjust="spacingAndGlyphs" fill="#111" font-weight="bold" >3</text>
<text x="210.56" y="1002.40" font-size="13.30" textLength="23.65" lengthAdjust="spacingAndGlyphs" fill="#111" font-weight="bold" >Feb</text>
<text x="266.56" y="986.40" font-size="12.40" textLength="6.90" lengthAdjust="spacingAndGlyphs" fill="#111" font-weight="bold" >4</text>
<text x="258.16" y="1002.40" font-size="13.30" textLength="23.65" lengthAdjust="spacingAndGlyphs" fill="#111" font-weight="bold" >Feb</text>
<text x="314.16" y="986.40" font-size="12.40" textLength="6.90" lengthAdjust="spacingAndGlyphs" fill="#111" font-weight="bold" >5</text>
<text x="305.76" y="1002.40" font-size="13.30" textLength="23.65" lengthAdjust="spacingAndGlyphs" fill="#111" font-weight="bold" >Feb</text>
<text x="361.76" y="986.40" font-size="12.40" textLength="6.90" lengthAdjust="spacingAndGlyphs" fill="#111" font-weight="bold" >6</text>
<text x="353.36" y="1002.40" font-size="13.30" textLength="23.65" lengthAdjust="spacingAndGlyphs" fill="#111" font-weight="bold" >Feb</text>
<text x="409.36" y="986.40" font-size="12.40" textLength="6.90" lengthAdjust="spacingAndGlyphs" fill="#111" font-weight="bold" >7</text>
<text x="400.96" y="1002.40" font-size="13.30" textLength="23.65" lengthAdjust="spacingAndGlyphs" fill="#111" font-weight="bold" >Feb</text>
<text x="456.96" y="986.40" font-size="12.40" textLength="6.90" lengthAdjust="spacingAndGlyphs" fill="#111" font-weight="bold" >8</text>
<text x="448.56" y="1002.40" font-size="13.30" textLength="23.65" lengthAdjust="spacingAndGlyphs" fill="#111" font-weight="bold" >Feb</text>
<text x="504.56" y="986.40" font-size="12.40" textLength="6.90" lengthAdjust="spacingAndGlyphs" fill="#111" font-weight="bold" >9</text>
<text x="496.16" y="1002.40" font-size="13.30" textLength="23.65" lengthAdjust="spacingAndGlyphs" fill="#111" font-weight="bold" >Feb</text>
<text x="548.72" y="986.40" font-size="12.40" textLength="13.79" lengthAdjust="spacingAndGlyphs" fill="#111" font-weight="bold" >10</text>
<text x="543.76" y="1002.40" font-size="13.30" textLength="23.65" lengthAdjust="spacingAndGlyphs" fill="#111" font-weight="bold" >Feb</text>
<text x="596.66" y="986.40" font-size="12.40" textLength="13.11" lengthAdjust="spacingAndGlyphs" fill="#111" font-weight="bold" >11</text>
<text x="591.36" y="1002.40" font-size="13.30" textLength="23.65" lengthAdjust="spacingAndGlyphs" fill="#111" font-weight="bold" >Feb</text>
<text x="643.92" y="986.40" font-size="12.40" textLength="13.79" lengthAdjust="spacingAndGlyphs" fill="#111" font-weight="bold" >12</text>
<text x="638.96" y="1002.40" font-size="13.30" textLength="23.65" lengthAdjust="spacingAndGlyphs" fill="#111" font-weight="bold" >Feb</text>
<text x="691.52" y="986.40" font-size="12.40" textLength="13.79" lengthAdjust="spacingAndGlyphs" fill="#111" font-weight="bold" >13</text>
<text x="686.56" y="1002.40" font-size="13.30" textLength="23.65" lengthAdjust="spacingAndGlyphs" fill="#111" font-weight="bold" >Feb</text>
<text x="739.12" y="986.40" font-size="12.40" textLength="13.79" lengthAdjust="spacingAndGlyphs" fill="#111" font-weight="bold" >14</text>
<text x="734.16" y="1002.40" font-size="13.30" textLength="23.65" lengthAdjust="spacingAndGlyphs" fill="#111" font-weight="bold" >Feb</text>
<text x="786.72" y="986.40" font-size="12.40" textLength="13.79" lengthAdjust="spacingAndGlyphs" fill="#111" font-weight="bold" >15</text>
<text x="781.76" y="1002.40" font-size="13.30" textLength="23.65" lengthAdjust="spacingAndGlyphs" fill="#111" font-weight="bold" >Feb</text>
<polyline points="174.8,702.8 222.4,692.5 270.0,671.6 317.6,722.3 365.2,845.2 412.8,723.9 460.4,798.3 508.0,686.5 555.6,828.1 603.2,694.6 650.8,714.1 698.4,713.4 746.0,640.3 793.6,640.6" fill="none" stroke="#4bae50" stroke-width="2.6" stroke-linejoin="round"/>
<circle cx="174.8" cy="702.8" r="3.2" fill="#4bae50"/>
<circle cx="222.4" cy="692.5" r="3.2" fill="#4bae50"/>
<circle cx="270.0" cy="671.6" r="3.2" fill="#4bae50"/>
<circle cx="317.6" cy="722.3" r="3.2" fill="#4bae50"/>
<circle cx="365.2" cy="845.2" r="3.2" fill="#4bae50"/>
<circle cx="412.8" cy="723.9" r="3.2" fill="#4bae50"/>
<circle cx="460.4" cy="798.3" r="3.2" fill="#4bae50"/>
<circle cx="508.0" cy="686.5" r="3.2" fill="#4bae50"/>
<circle cx="555.6" cy="828.1" r="3.2" fill="#4bae50"/>
<circle cx="603.2" cy="694.6" r="3.2" fill="#4bae50"/>
<circle cx="650.8" cy="714.1" r="3.2" fill="#4bae50"/>
<circle cx="698.4" cy="713.4" r="3.2" fill="#4bae50"/>
<circle cx="746.0" cy="640.3" r="3.2" fill="#4bae50"/>
<circle cx="793.6" cy="640.6" r="3.2" fill="#4bae50"/>
<circle cx="175.8" cy="680.3" r="15.5" fill="#1f5a2a" opacity="0.3" filter="url(#blur1)"/>
<polygon points="166.7,691.5 174.8,702.8 182.9,691.5" fill="#3aac4a"/>
<circle cx="174.8" cy="678.3" r="15.5" fill="url(#ring)"/>
<circle cx="174.8" cy="678.3" r="11.3" fill="url(#pinw)"/>
<text x="164.33" y="681.20" font-size="8.40" textLength="20.93" lengthAdjust="spacingAndGlyphs" fill="#1e1e1e" stroke="#1e1e1e" stroke-width="0.35">3661</text>
<circle cx="223.4" cy="716.5" r="15.5" fill="#1f5a2a" opacity="0.3" filter="url(#blur1)"/>
<polygon points="230.5,701.2 222.4,692.5 214.3,701.2" fill="#3aac4a"/>
<circle cx="222.4" cy="714.5" r="15.5" fill="url(#ring)"/>
<circle cx="222.4" cy="714.5" r="11.3" fill="url(#pinw)"/>
<text x="211.93" y="717.36" font-size="8.40" textLength="20.93" lengthAdjust="spacingAndGlyphs" fill="#1e1e1e" stroke="#1e1e1e" stroke-width="0.35">3804</text>
<circle cx="271.0" cy="695.6" r="15.5" fill="#1f5a2a" opacity="0.3" filter="url(#blur1)"/>
<polygon points="278.1,680.4 270.0,671.6 261.9,680.4" fill="#3aac4a"/>
<circle cx="270.0" cy="693.6" r="15.5" fill="url(#ring)"/>
<circle cx="270.0" cy="693.6" r="11.3" fill="url(#pinw)"/>
<text x="259.53" y="696.53" font-size="8.40" textLength="20.93" lengthAdjust="spacingAndGlyphs" fill="#1e1e1e" stroke="#1e1e1e" stroke-width="0.35">4092</text>
<circle cx="318.6" cy="699.8" r="15.5" fill="#1f5a2a" opacity="0.3" filter="url(#blur1)"/>
<polygon points="309.5,711.0 317.6,722.3 325.7,711.0" fill="#3aac4a"/>
<circle cx="317.6" cy="697.8" r="15.5" fill="url(#ring)"/>
<circle cx="317.6" cy="697.8" r="11.3" fill="url(#pinw)"/>
<text x="307.13" y="700.66" font-size="8.40" textLength="20.93" lengthAdjust="spacingAndGlyphs" fill="#1e1e1e" stroke="#1e1e1e" stroke-width="0.35">3392</text>
<circle cx="366.2" cy="822.7" r="15.5" fill="#1f5a2a" opacity="0.3" filter="url(#blur1)"/>
<polygon points="357.1,833.9 365.2,845.2 373.3,833.9" fill="#3aac4a"/>
<circle cx="365.2" cy="820.7" r="15.5" fill="url(#ring)"/>
<circle cx="365.2" cy="820.7" r="11.3" fill="url(#pinw)"/>
<text x="354.73" y="823.62" font-size="8.40" textLength="20.93" lengthAdjust="spacingAndGlyphs" fill="#1e1e1e" stroke="#1e1e1e" stroke-width="0.35">1692</text>
<circle cx="413.8" cy="747.9" r="15.5" fill="#1f5a2a" opacity="0.3" filter="url(#blur1)"/>
<polygon points="420.9,732.7 412.8,723.9 404.7,732.7" fill="#3aac4a"/>
<circle cx="412.8" cy="745.9" r="15.5" fill="url(#ring)"/>
<circle cx="412.8" cy="745.9" r="11.3" fill="url(#pinw)"/>
<text x="402.33" y="748.82" font-size="8.40" textLength="20.93" lengthAdjust="spacingAndGlyphs" fill="#1e1e1e" stroke="#1e1e1e" stroke-width="0.35">3369</text>
<circle cx="461.4" cy="822.3" r="15.5" fill="#1f5a2a" opacity="0.3" filter="url(#blur1)"/>
<polygon points="468.5,807.1 460.4,798.3 452.3,807.1" fill="#3aac4a"/>
<circle cx="460.4" cy="820.3" r="15.5" fill="url(#ring)"/>
<circle cx="460.4" cy="820.3" r="11.3" fill="url(#pinw)"/>
<text x="449.93" y="823.25" font-size="8.40" textLength="20.93" lengthAdjust="spacingAndGlyphs" fill="#1e1e1e" stroke="#1e1e1e" stroke-width="0.35">2340</text>
<circle cx="509.0" cy="664.0" r="15.5" fill="#1f5a2a" opacity="0.3" filter="url(#blur1)"/>
<polygon points="499.9,675.2 508.0,686.5 516.1,675.2" fill="#3aac4a"/>
<circle cx="508.0" cy="662.0" r="15.5" fill="url(#ring)"/>
<circle cx="508.0" cy="662.0" r="11.3" fill="url(#pinw)"/>
<text x="497.53" y="664.85" font-size="8.40" textLength="20.93" lengthAdjust="spacingAndGlyphs" fill="#1e1e1e" stroke="#1e1e1e" stroke-width="0.35">3887</text>
<circle cx="556.6" cy="805.6" r="15.5" fill="#1f5a2a" opacity="0.3" filter="url(#blur1)"/>
<polygon points="547.5,816.8 555.6,828.1 563.7,816.8" fill="#3aac4a"/>
<circle cx="555.6" cy="803.6" r="15.5" fill="url(#ring)"/>
<circle cx="555.6" cy="803.6" r="11.3" fill="url(#pinw)"/>
<text x="545.13" y="806.48" font-size="8.40" textLength="20.93" lengthAdjust="spacingAndGlyphs" fill="#1e1e1e" stroke="#1e1e1e" stroke-width="0.35">1929</text>
<circle cx="604.2" cy="672.1" r="15.5" fill="#1f5a2a" opacity="0.3" filter="url(#blur1)"/>
<polygon points="595.1,683.3 603.2,694.6 611.3,683.3" fill="#3aac4a"/>
<circle cx="603.2" cy="670.1" r="15.5" fill="url(#ring)"/>
<circle cx="603.2" cy="670.1" r="11.3" fill="url(#pinw)"/>
<text x="592.73" y="673.03" font-size="8.40" textLength="20.93" lengthAdjust="spacingAndGlyphs" fill="#1e1e1e" stroke="#1e1e1e" stroke-width="0.35">3774</text>
<circle cx="651.8" cy="691.6" r="15.5" fill="#1f5a2a" opacity="0.3" filter="url(#blur1)"/>
<polygon points="642.7,702.8 650.8,714.1 658.9,702.8" fill="#3aac4a"/>
<circle cx="650.8" cy="689.6" r="15.5" fill="url(#ring)"/>
<circle cx="650.8" cy="689.6" r="11.3" fill="url(#pinw)"/>
<text x="640.33" y="692.48" font-size="8.40" textLength="20.93" lengthAdjust="spacingAndGlyphs" fill="#1e1e1e" stroke="#1e1e1e" stroke-width="0.35">3505</text>
<circle cx="699.4" cy="690.9" r="15.5" fill="#1f5a2a" opacity="0.3" filter="url(#blur1)"/>
<polygon points="690.3,702.1 698.4,713.4 706.5,702.1" fill="#3aac4a"/>
<circle cx="698.4" cy="688.9" r="15.5" fill="url(#ring)"/>
<circle cx="698.4" cy="688.9" r="11.3" fill="url(#pinw)"/>
<text x="687.93" y="691.76" font-size="8.40" textLength="20.93" lengthAdjust="spacingAndGlyphs" fill="#1e1e1e" stroke="#1e1e1e" stroke-width="0.35">3515</text>
<circle cx="747.0" cy="617.8" r="15.5" fill="#1f5a2a" opacity="0.3" filter="url(#blur1)"/>
<polygon points="737.9,629.0 746.0,640.3 754.1,629.0" fill="#3aac4a"/>
<circle cx="746.0" cy="615.8" r="15.5" fill="url(#ring)"/>
<circle cx="746.0" cy="615.8" r="11.3" fill="url(#pinw)"/>
<text x="735.53" y="618.71" font-size="8.40" textLength="20.93" lengthAdjust="spacingAndGlyphs" fill="#1e1e1e" stroke="#1e1e1e" stroke-width="0.35">4525</text>
<circle cx="794.6" cy="618.1" r="15.5" fill="#1f5a2a" opacity="0.3" filter="url(#blur1)"/>
<polygon points="785.5,629.3 793.6,640.6 801.7,629.3" fill="#3aac4a"/>
<circle cx="793.6" cy="616.1" r="15.5" fill="url(#ring)"/>
<circle cx="793.6" cy="616.1" r="11.3" fill="url(#pinw)"/>
<text x="783.13" y="619.00" font-size="8.40" textLength="20.93" lengthAdjust="spacingAndGlyphs" fill="#1e1e1e" stroke="#1e1e1e" stroke-width="0.35">4521</text>
<circle cx="53.5" cy="495.5" r="34.5" fill="#9eabb6" opacity="0.75" filter="url(#blur1)"/>
<circle cx="50.0" cy="491.0" r="34.4" fill="#e8622c"/>
<circle cx="50.0" cy="491.0" r="29.4" fill="#fefefe"/>
<text x="34.81" y="476.30" font-size="7.10" textLength="30.39" lengthAdjust="spacingAndGlyphs" fill="#262626" font-weight="bold" >3rd wave</text>
<text x="27.72" y="484.80" font-size="7.10" textLength="44.57" lengthAdjust="spacingAndGlyphs" fill="#262626" font-weight="bold" >during MCO /</text>
<text x="25.35" y="494.00" font-size="7.10" textLength="49.30" lengthAdjust="spacingAndGlyphs" fill="#262626" font-weight="bold" >CMCO / RMCO</text>
<text x="31.78" y="503.20" font-size="9.60" textLength="36.44" lengthAdjust="spacingAndGlyphs" fill="#262626" font-weight="bold" >256,278</text>
<text x="40.13" y="511.10" font-size="7.10" textLength="19.74" lengthAdjust="spacingAndGlyphs" fill="#262626" font-weight="bold" >cases</text>
<circle cx="53.5" cy="572.5" r="34.5" fill="#9eabb6" opacity="0.75" filter="url(#blur1)"/>
<circle cx="50.0" cy="568.0" r="34.4" fill="#e8622c"/>
<circle cx="50.0" cy="568.0" r="29.4" fill="#fefefe"/>
<text x="34.03" y="562.50" font-size="7.10" textLength="31.96" lengthAdjust="spacingAndGlyphs" fill="#262626" font-weight="bold" >2nd wave</text>
<text x="27.12" y="570.40" font-size="7.10" textLength="45.75" lengthAdjust="spacingAndGlyphs" fill="#262626" font-weight="bold" >during RMCO</text>
<text x="27.93" y="578.90" font-size="9.60" font-weight="bold" fill="#262626" textLength="22.42" lengthAdjust="spacingAndGlyphs">1831</text>
<text x="52.33" y="578.90" font-size="7.10" font-weight="bold" fill="#262626">cases</text>
<circle cx="87.5" cy="598.3" r="15.2" fill="#1f5a2a" opacity="0.3" filter="url(#blur1)"/>
<polygon points="80.1,582.5 68.5,584.3 71.3,595.7" fill="#3aac4a"/>
<circle cx="86.5" cy="596.3" r="15.2" fill="url(#ring)"/>
<circle cx="86.5" cy="596.3" r="10.5" fill="url(#pinw)"/>
<text x="76.45" y="599.20" font-size="8.60" textLength="20.09" lengthAdjust="spacingAndGlyphs" fill="#1e1e1e" stroke="#1e1e1e" stroke-width="0.35">2340</text>
<circle cx="53.5" cy="649.3" r="34.5" fill="#9eabb6" opacity="0.75" filter="url(#blur1)"/>
<circle cx="50.0" cy="644.8" r="34.4" fill="#e8622c"/>
<circle cx="50.0" cy="644.8" r="29.4" fill="#fefefe"/>
<text x="34.03" y="639.30" font-size="7.10" textLength="31.96" lengthAdjust="spacingAndGlyphs" fill="#262626" font-weight="bold" >2nd wave</text>
<text x="27.12" y="647.20" font-size="7.10" textLength="45.75" lengthAdjust="spacingAndGlyphs" fill="#262626" font-weight="bold" >during CMCO</text>
<text x="27.93" y="655.70" font-size="9.60" font-weight="bold" fill="#262626" textLength="22.42" lengthAdjust="spacingAndGlyphs">2038</text>
<text x="52.33" y="655.70" font-size="7.10" font-weight="bold" fill="#262626">cases</text>
<circle cx="87.5" cy="675.1" r="15.2" fill="#1f5a2a" opacity="0.3" filter="url(#blur1)"/>
<polygon points="80.1,659.3 68.5,661.1 71.3,672.5" fill="#3aac4a"/>
<circle cx="86.5" cy="673.1" r="15.2" fill="url(#ring)"/>
<circle cx="86.5" cy="673.1" r="10.5" fill="url(#pinw)"/>
<text x="76.45" y="676.00" font-size="8.60" textLength="20.09" lengthAdjust="spacingAndGlyphs" fill="#1e1e1e" stroke="#1e1e1e" stroke-width="0.35">2562</text>
<circle cx="53.5" cy="724.5" r="34.5" fill="#9eabb6" opacity="0.75" filter="url(#blur1)"/>
<circle cx="50.0" cy="720.0" r="34.4" fill="#e8622c"/>
<circle cx="50.0" cy="720.0" r="29.4" fill="#fefefe"/>
<text x="34.03" y="710.55" font-size="7.10" textLength="31.96" lengthAdjust="spacingAndGlyphs" fill="#262626" font-weight="bold" >2nd wave</text>
<text x="23.18" y="718.45" font-size="7.10" textLength="53.64" lengthAdjust="spacingAndGlyphs" fill="#262626" font-weight="bold" >during MCO 3rd</text>
<text x="20.61" y="726.35" font-size="7.10" textLength="58.78" lengthAdjust="spacingAndGlyphs" fill="#262626" font-weight="bold" >&amp; 4th phase MCO</text>
<text x="28.21" y="734.85" font-size="9.60" font-weight="bold" fill="#262626" textLength="21.87" lengthAdjust="spacingAndGlyphs">1311</text>
<text x="52.05" y="734.85" font-size="7.10" font-weight="bold" fill="#262626">cases</text>
<circle cx="87.5" cy="750.3" r="15.2" fill="#1f5a2a" opacity="0.3" filter="url(#blur1)"/>
<polygon points="80.1,734.5 68.5,736.3 71.3,747.7" fill="#3aac4a"/>
<circle cx="86.5" cy="748.3" r="15.2" fill="url(#ring)"/>
<circle cx="86.5" cy="748.3" r="10.5" fill="url(#pinw)"/>
<text x="76.45" y="751.20" font-size="8.60" textLength="20.09" lengthAdjust="spacingAndGlyphs" fill="#1e1e1e" stroke="#1e1e1e" stroke-width="0.35">1935</text>
<circle cx="53.5" cy="801.5" r="34.5" fill="#9eabb6" opacity="0.75" filter="url(#blur1)"/>
<circle cx="50.0" cy="797.0" r="34.4" fill="#e8622c"/>
<circle cx="50.0" cy="797.0" r="29.4" fill="#fefefe"/>
<text x="34.03" y="787.55" font-size="7.10" textLength="31.96" lengthAdjust="spacingAndGlyphs" fill="#262626" font-weight="bold" >2nd wave</text>
<text x="20.02" y="795.45" font-size="7.10" textLength="59.96" lengthAdjust="spacingAndGlyphs" fill="#262626" font-weight="bold" >during MCO 1st &amp;</text>
<text x="23.18" y="803.35" font-size="7.10" textLength="53.65" lengthAdjust="spacingAndGlyphs" fill="#262626" font-weight="bold" >2nd phase MCO</text>
<text x="27.93" y="811.85" font-size="9.60" font-weight="bold" fill="#262626" textLength="22.42" lengthAdjust="spacingAndGlyphs">4314</text>
<text x="52.33" y="811.85" font-size="7.10" font-weight="bold" fill="#262626">cases</text>
<circle cx="87.5" cy="827.3" r="15.2" fill="#1f5a2a" opacity="0.3" filter="url(#blur1)"/>
<polygon points="80.1,811.5 68.5,813.3 71.3,824.7" fill="#3aac4a"/>
<circle cx="86.5" cy="825.3" r="15.2" fill="url(#ring)"/>
<circle cx="86.5" cy="825.3" r="10.5" fill="url(#pinw)"/>
<text x="76.45" y="828.20" font-size="8.60" textLength="20.09" lengthAdjust="spacingAndGlyphs" fill="#1e1e1e" stroke="#1e1e1e" stroke-width="0.35">2429</text>
<circle cx="53.5" cy="877.2" r="34.5" fill="#9eabb6" opacity="0.75" filter="url(#blur1)"/>
<circle cx="50.0" cy="872.7" r="34.4" fill="#e8622c"/>
<circle cx="50.0" cy="872.7" r="29.4" fill="#fefefe"/>
<text x="34.03" y="867.20" font-size="7.10" textLength="31.96" lengthAdjust="spacingAndGlyphs" fill="#262626" font-weight="bold" >2nd wave</text>
<text x="29.89" y="875.10" font-size="7.10" textLength="40.24" lengthAdjust="spacingAndGlyphs" fill="#262626" font-weight="bold" >before MCO</text>
<text x="30.73" y="883.60" font-size="9.60" font-weight="bold" fill="#262626" textLength="16.82" lengthAdjust="spacingAndGlyphs">651</text>
<text x="49.52" y="883.60" font-size="7.10" font-weight="bold" fill="#262626">cases</text>
<circle cx="87.5" cy="903.0" r="15.2" fill="#1f5a2a" opacity="0.3" filter="url(#blur1)"/>
<polygon points="80.1,887.2 68.5,889.0 71.3,900.4" fill="#3aac4a"/>
<circle cx="86.5" cy="901.0" r="15.2" fill="url(#ring)"/>
<circle cx="86.5" cy="901.0" r="10.5" fill="url(#pinw)"/>
<text x="81.49" y="903.90" font-size="8.60" textLength="10.04" lengthAdjust="spacingAndGlyphs" fill="#1e1e1e" stroke="#1e1e1e" stroke-width="0.35">27</text>
<circle cx="53.5" cy="954.3" r="34.5" fill="#9eabb6" opacity="0.75" filter="url(#blur1)"/>
<circle cx="50.0" cy="949.8" r="34.4" fill="#e8622c"/>
<circle cx="50.0" cy="949.8" r="29.4" fill="#fefefe"/>
<text x="35.20" y="948.25" font-size="7.10" textLength="29.60" lengthAdjust="spacingAndGlyphs" fill="#262626" font-weight="bold" >1st wave</text>
<text x="33.54" y="956.75" font-size="9.60" font-weight="bold" fill="#262626" textLength="11.21" lengthAdjust="spacingAndGlyphs">22</text>
<text x="46.72" y="956.75" font-size="7.10" font-weight="bold" fill="#262626">cases</text>
<circle cx="87.5" cy="980.1" r="15.2" fill="#1f5a2a" opacity="0.3" filter="url(#blur1)"/>
<polygon points="80.1,964.3 68.5,966.1 71.3,977.5" fill="#3aac4a"/>
<circle cx="86.5" cy="978.1" r="15.2" fill="url(#ring)"/>
<circle cx="86.5" cy="978.1" r="10.5" fill="url(#pinw)"/>
<text x="81.49" y="981.00" font-size="8.60" textLength="10.04" lengthAdjust="spacingAndGlyphs" fill="#1e1e1e" stroke="#1e1e1e" stroke-width="0.35">22</text>
<circle cx="285.8" cy="1037.9" r="12.2" fill="#3b5ca8"/>
<path d="M284.2,1047 V1038.6 H281.8 V1035.6 H284.2 V1033.4 C284.2,1030.8 285.6,1029.3 288.1,1029.3 C289.1,1029.3 289.9,1029.4 290.2,1029.5 V1032.1 H288.7 C287.6,1032.1 287.4,1032.6 287.4,1033.4 V1035.6 H290.1 L289.7,1038.6 H287.4 V1047 Z" fill="#fff"/>
<circle cx="315.2" cy="1037.9" r="12.2" fill="#2d95d5"/>
<path d="M308,1042.5 C312.5,1045 319,1043.3 320.6,1036.2 L322.8,1034.2 L320.6,1034.8 L322,1032.8 L319.8,1033.6 C317.6,1031.2 313.4,1032.6 313.9,1036.2 C311.4,1036.1 309.3,1035 307.7,1033.1 C306.9,1034.8 307.5,1036.7 309,1037.6 L307.9,1037.4 C308,1039.1 309.1,1040.4 310.7,1040.8 C309.8,1041.5 309,1041.7 308,1042.5 Z" fill="#fff"/>
<circle cx="344.3" cy="1037.9" r="12.2" fill="#d4232b"/>
<rect x="336.6" y="1032.6" width="15.4" height="10.6" rx="3" fill="#fff"/>
<polygon points="342.5,1035 342.5,1040.8 347.3,1037.9" fill="#d4232b"/>
<circle cx="373.8" cy="1037.9" r="12.2" fill="url(#igg)"/>
<rect x="367.3" y="1031.4" width="13" height="13" rx="3.6" fill="none" stroke="#f8d9a8" stroke-width="1.6"/>
<circle cx="373.8" cy="1037.9" r="3.1" fill="none" stroke="#f8d9a8" stroke-width="1.5"/>
<circle cx="377.9" cy="1033.9" r="0.9" fill="#f8d9a8"/>
<rect x="274.7" y="1053.8" width="110.7" height="1.2" fill="#444"/>
<rect x="274.7" y="1068" width="110.7" height="1" fill="#aaa"/>
<rect x="273.5" y="1040" width="0.8" height="40" fill="#bbb"/>
<rect x="431.4" y="1038.6" width="2.2" height="17" fill="#222"/>
<text x="279.90" y="1064.80" font-size="10.29" textLength="97.32" lengthAdjust="spacing" fill="#222" font-weight="bold" >myhealthkkm</text>
<circle cx="514.9" cy="1023.2" r="8.9" fill="#e8662a"/>
<path d="M509,1021 C510,1017 516,1015 519,1019 C521,1022 519,1026 515,1026 C512,1026 511,1023 513,1021.5" fill="none" stroke="#f7b23b" stroke-width="1.3"/>
<path d="M507.5,1026 C508,1029 511,1030.5 514,1030" fill="none" stroke="#f7b23b" stroke-width="1"/>
<circle cx="502.5" cy="1032" r="2.7" fill="#d8262e"/>
<path d="M499.5,1036.5 C502,1033 505,1029.5 508.5,1027.5 L509.5,1029 C506.5,1031 504,1034 501.5,1037.5 Z" fill="#d8262e"/>
<path d="M503,1037 C506,1035.5 509.5,1033.5 512.5,1030.5 L513.5,1031.8 C510.5,1035 507,1037.5 504,1039 Z" fill="#d8262e"/>
<path d="M500.5,1035 C492,1039.5 488.5,1049 493.5,1057.5 C496.5,1062.5 500.5,1066 502.5,1074.5 L504.6,1074.5 C503.8,1066 502,1060 499.8,1055 C497,1049 498,1042.5 503.5,1038.5 Z" fill="#d8262e"/>
<path d="M495.5,1049 C503,1052.5 512,1050.5 520.5,1051.5 L520,1054.2 C511.5,1054.5 503,1056 495.5,1053.5 Z" fill="#d8262e"/>
<text x="510.50" y="1047.70" font-size="15.71" textLength="14.09" lengthAdjust="spacingAndGlyphs" fill="#2b3a85" font-weight="bold" style='font-family:"Liberation Serif",serif' >My</text>
<text x="525.20" y="1047.70" font-size="15.71" textLength="70.74" lengthAdjust="spacingAndGlyphs" fill="#c1272d" font-weight="bold" style='font-family:"Liberation Serif",serif' >HEALTH</text>
<text x="580.00" y="1055.70" font-size="6.45" textLength="21.69" lengthAdjust="spacingAndGlyphs" fill="#47a6d8" font-style="italic" >for life</text>
<rect x="515.5" y="1062.6" width="76" height="0.8" fill="#555"/>
<text x="517.03" y="1070.60" font-size="6.86" textLength="73.26" lengthAdjust="spacingAndGlyphs" fill="#333" font-weight="bold" >www.myhealth.gov.my</text>
</svg>
</body></html>
